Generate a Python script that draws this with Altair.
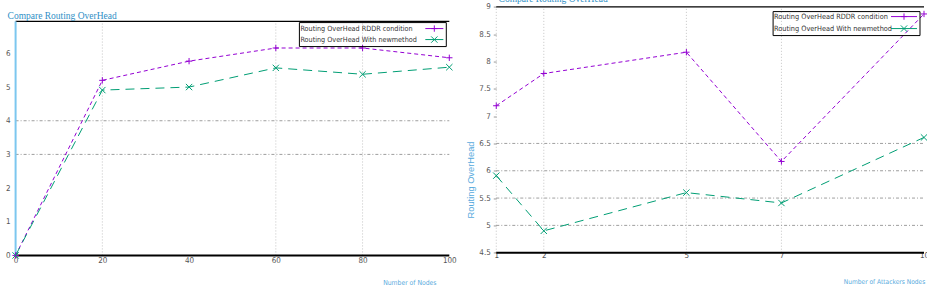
import altair as alt
import pandas as pd

# ---------------- data ----------------
series_names = ["Routing OverHead RDDR condition", "Routing OverHead With newmethod"]
series_colors = ["#9400d3", "#009e73"]

nodes = [0, 20, 40, 60, 80, 100]
nodes_rddr = [0.0, 5.2, 5.77, 6.16, 6.16, 5.87]
nodes_new = [0.0, 4.91, 5.0, 5.57, 5.38, 5.59]
nodes_xticks = [0, 20, 40, 60, 80, 100]
nodes_yticks = [0, 1, 2, 3, 4, 5, 6]
nodes_vgrid = [20, 60, 80]
nodes_hgrid = [3, 4]
nodes_ytop = 6.95

attackers = [1, 2, 5, 7, 10]
att_rddr = [7.19, 7.78, 8.17, 6.17, 8.87]
att_new = [5.91, 4.9, 5.6, 5.41, 6.61]
att_xticks = [1, 2, 5, 7, 10]
att_yticks = [4.5, 5, 5.5, 6, 6.5, 7, 7.5, 8, 8.5, 9]
att_vgrid = [1, 2, 5, 7]
att_hgrid = [5, 5.5, 6, 6.5]

chart_title = "Compare Routing OverHead"

# ---------------- style ----------------
SANS_N = "DejaVu Sans Condensed, Liberation Sans Narrow, Liberation Sans, sans-serif"
SERIF = "Liberation Serif, DejaVu Serif, serif"
BLUE_T = "#2f8fc6"
BLUE_A = "#58aadd"
LABEL_C = "#555555"
PLUS = "M-1,0L1,0M0,-1L0,1"
CROSS = "M-1,-1L1,1M-1,1L1,-1"
H = 249


def build(xs, ya, yb, xdom, ydom, vgrid, hgrid, ybot, ytop, width,
          xaxis, yaxis, leg, title_xy, blue_axis=False):
    n = len(xs)
    df = pd.DataFrame({"x": xs + xs, "y": ya + yb,
                       "series": [series_names[0]] * n + [series_names[1]] * n})
    X = alt.X("x:Q", scale=alt.Scale(domain=xdom, nice=False, zero=False), axis=xaxis)
    Y = alt.Y("y:Q", scale=alt.Scale(domain=ydom, nice=False, zero=False), axis=yaxis)
    color = alt.Color("series:N", scale=alt.Scale(domain=series_names, range=series_colors),
                      legend=None)

    layers = []
    vg = pd.DataFrame({"x": vgrid, "y": [ybot] * len(vgrid), "y2": [ytop] * len(vgrid)})
    layers.append(alt.Chart(vg).mark_rule(color="#c4c4c4", strokeWidth=1, strokeDash=[1, 2])
                  .encode(X, Y, y2=alt.Y2("y2")))
    hg = pd.DataFrame({"y": hgrid, "x": [xdom[0]] * len(hgrid), "x2": [xdom[1]] * len(hgrid)})
    layers.append(alt.Chart(hg).mark_rule(color="#858585", strokeWidth=0.8, strokeDash=[3, 2, 1, 2])
                  .encode(X, Y, x2=alt.X2("x2")))
    top = pd.DataFrame({"y": [ytop], "x": [xdom[0]], "x2": [xdom[1]]})
    layers.append(alt.Chart(top).mark_rule(color="black", strokeWidth=1.3)
                  .encode(X, Y, x2=alt.X2("x2")))
    bot = pd.DataFrame({"y": [ybot], "x": [xdom[0]], "x2": [xdom[1]]})
    layers.append(alt.Chart(bot).mark_rule(color="black", strokeWidth=2)
                  .encode(X, Y, x2=alt.X2("x2")))
    if blue_axis:
        ba = pd.DataFrame({"x": [xdom[0]], "y": [ybot], "y2": [ytop]})
        layers.append(alt.Chart(ba).mark_rule(color="#7cc7ef", strokeWidth=2)
                      .encode(X, Y, y2=alt.Y2("y2")))

    layers.append(alt.Chart(df).mark_line(strokeWidth=1).encode(
        X, Y, color=color,
        strokeDash=alt.StrokeDash("series:N",
                                  scale=alt.Scale(domain=series_names, range=[[4, 3], [9, 6]]),
                                  legend=None)))
    layers.append(alt.Chart(df).mark_point(filled=False, strokeWidth=1, size=40, opacity=1).encode(
        X, Y, color=color,
        shape=alt.Shape("series:N", scale=alt.Scale(domain=series_names, range=[PLUS, CROSS]),
                        legend=None)))

    # key (gnuplot-like: text, then sample)
    bx1, bx2, by1, by2, tx, rows, sx1, sx2, fsz = leg
    layers.append(alt.Chart(pd.DataFrame({"k": [0]})).mark_rect(
        filled=False, stroke="black", strokeWidth=1).encode(
        x=alt.value(bx1), x2=alt.value(bx2), y=alt.value(by1), y2=alt.value(by2)))
    shapes = [PLUS, CROSS]
    for i, name in enumerate(series_names):
        layers.append(alt.Chart(pd.DataFrame({"label": [name]})).mark_text(
            align="left", baseline="middle", font=SANS_N, fontSize=fsz, color="#333333").encode(
            text="label:N", x=alt.value(tx), y=alt.value(rows[i])))
        layers.append(alt.Chart(pd.DataFrame({"label": [name]})).mark_rule(
            color=series_colors[i], strokeWidth=1).encode(
            x=alt.value(sx1), x2=alt.value(sx2), y=alt.value(rows[i])))
        layers.append(alt.Chart(pd.DataFrame({"label": [name]})).mark_point(
            shape=shapes[i], filled=False, strokeWidth=1, size=40, color=series_colors[i],
            opacity=1).encode(x=alt.value((sx1 + sx2) / 2), y=alt.value(rows[i])))

    layers.append(alt.Chart(pd.DataFrame({"t": [chart_title]})).mark_text(
        align="left", baseline="alphabetic", font=SERIF, fontSize=9.5, color=BLUE_T).encode(
        text="t:N", x=alt.value(title_xy[0]), y=alt.value(title_xy[1])))

    return alt.layer(*layers).properties(width=width, height=H)


left_xaxis = alt.Axis(values=nodes_xticks, grid=False, domain=False, ticks=False,
                      labelFont=SANS_N, labelFontSize=8, labelColor=LABEL_C, labelPadding=1,
                      labelFlush=False, labelOverlap=False,
                      title="Number of Nodes", titleFont=SANS_N, titleFontSize=6.8,
                      titleFontWeight="normal", titleColor=BLUE_A, titleX=394, titleY=27,
                      titleAlign="center", titleBaseline="middle")
left_yaxis = alt.Axis(values=nodes_yticks, grid=False, domain=False, ticks=False,
                      labelFont=SANS_N, labelFontSize=8, labelColor=LABEL_C, labelPadding=5.5,
                      labelOverlap=False, title=None)
right_xaxis = alt.Axis(values=att_xticks, grid=False, domain=False, ticks=False,
                       labelFont=SANS_N, labelFontSize=8, labelColor=LABEL_C, labelPadding=-4,
                       labelFlush=False, labelOverlap=False,
                       title="Number of Attackers Nodes", titleFont=SANS_N, titleFontSize=6.6,
                       titleFontWeight="normal", titleColor=BLUE_A, titleX=388, titleY=26,
                       titleAlign="center", titleBaseline="middle")
right_yaxis = alt.Axis(values=att_yticks, format=".1~f", grid=False, domain=False, ticks=True,
                       tickSize=3, tickColor="#999999", labelFont=SANS_N, labelFontSize=8,
                       labelColor=LABEL_C, labelPadding=3, labelOverlap=False,
                       title="Routing OverHead", titleFont="Liberation Sans, sans-serif",
                       titleFontSize=9.3, titleFontWeight="normal", titleColor=BLUE_A,
                       titleX=-25.7, titleY=173, titleAlign="center", titleBaseline="middle")

left = build(nodes, nodes_rddr, nodes_new, [0, 100], [0, 7.39], nodes_vgrid, nodes_hgrid,
             0, nodes_ytop, 434, left_xaxis, left_yaxis,
             (284, 431, 16, 40, 285, (22, 33), 410, 428, 7.2), (-8, 12), blue_axis=True)
right = build(attackers, att_rddr, att_new, [1, 10], [4.45, 9.005], att_vgrid, att_hgrid,
              4.5, 9, 428, right_xaxis, right_yaxis,
              (277, 424, 5, 29, 278, (10, 22), 395, 421, 7.3), (2.3, -4.3))

chart = alt.hconcat(left, right, spacing=47, bounds="flush").configure_view(
    stroke=None).properties(padding={"left": 4.6, "top": -6.5, "right": -3, "bottom": 2})

chart.save("out.html", embed_options={"renderer": "svg", "actions": False})
